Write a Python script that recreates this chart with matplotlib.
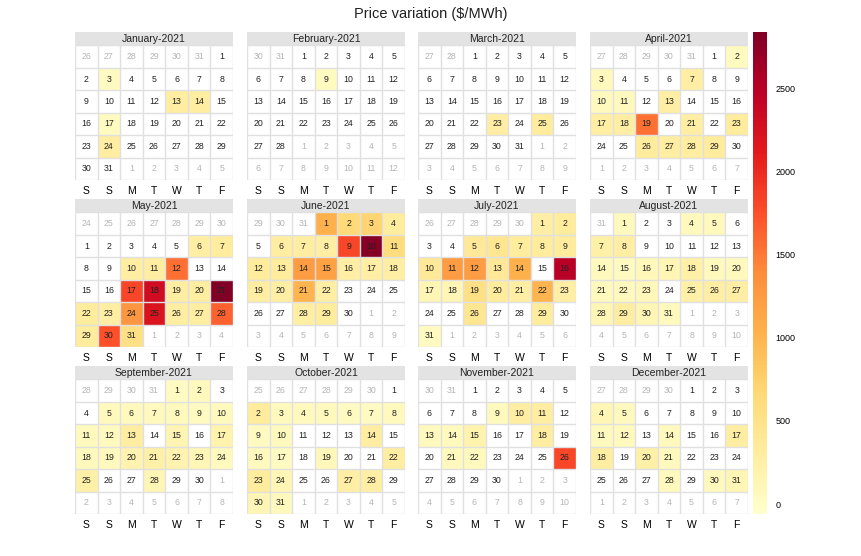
import datetime as dt

import numpy as np
import matplotlib
matplotlib.use('Agg')
import matplotlib.pyplot as plt
from matplotlib.patches import Rectangle
from matplotlib.colors import Normalize

plt.rcParams['font.family'] = ['Liberation Sans', 'DejaVu Sans']

# daily price variation ($/MWh), days not listed have no value
jan = {3: 40, 13: 300, 14: 300, 17: 50, 24: 300}
feb = {9: 50}
mar = {23: 280, 25: 330}
apr = {2: 50, 3: 60, 7: 280, 10: 60, 11: 60, 13: 280, 17: 280, 18: 280,
       19: 1550, 21: 280, 23: 330, 26: 330, 27: 300, 28: 300, 29: 330}
may = {6: 280, 7: 330, 10: 300, 11: 300, 12: 1550, 17: 1800, 18: 2300,
       19: 300, 20: 300, 21: 2840, 22: 330, 23: 280, 24: 1300, 25: 2200,
       26: 300, 27: 300, 28: 1650, 29: 330, 30: 1750, 31: 550}
jun = {1: 1050, 2: 650, 3: 700, 4: 330, 6: 300, 7: 300, 8: 280, 9: 1800,
       10: 2800, 11: 600, 12: 330, 13: 330, 14: 1250, 15: 1200, 16: 280,
       17: 280, 18: 280, 19: 300, 20: 280, 21: 1000, 22: 280, 28: 280, 29: 330}
jul = {1: 280, 2: 330, 5: 380, 6: 430, 7: 330, 8: 330, 9: 330, 10: 380,
       11: 1250, 12: 1250, 13: 380, 14: 1050, 16: 2500, 17: 140, 18: 140,
       19: 550, 20: 330, 21: 280, 22: 1000, 23: 280, 26: 430, 29: 330, 31: 50}
aug = {1: 70, 4: 70, 5: 70, 7: 250, 8: 280, 14: 70, 15: 50, 16: 90,
       17: 140, 18: 250, 19: 70, 20: 70, 21: 70, 22: 70, 23: 90,
       25: 250, 26: 280, 27: 280, 28: 140, 29: 300, 30: 140, 31: 70}
sep = {1: 40, 2: 60, 5: 60, 6: 60, 7: 60, 8: 60, 9: 40, 10: 60,
       11: 60, 12: 60, 13: 300, 15: 150, 17: 200, 18: 70, 19: 60,
       20: 180, 21: 250, 22: 180, 23: 130, 24: 70, 25: 250, 28: 130}
oct_ = {2: 330, 3: 70, 4: 70, 5: 70, 6: 40, 7: 40, 8: 70, 9: 40,
        10: 70, 14: 300, 16: 70, 17: 40, 19: 90, 22: 300, 23: 330,
        24: 140, 27: 280, 28: 280, 30: 140, 31: 70}
nov = {9: 70, 10: 300, 11: 300, 13: 70, 14: 70, 15: 190, 18: 300,
       21: 70, 22: 70, 26: 1800}
dec = {4: 140, 5: 70, 11: 70, 12: 70, 14: 70, 17: 300, 18: 300,
       20: 250, 21: 70, 28: 70, 30: 70, 31: 140}

month_names = ['January', 'February', 'March', 'April', 'May', 'June', 'July',
               'August', 'September', 'October', 'November', 'December']
month_values = [jan, feb, mar, apr, may, jun, jul, aug, sep, oct_, nov, dec]
weekday_labels = ['S', 'S', 'M', 'T', 'W', 'T', 'F']

W, H = 862, 556
fig = plt.figure(figsize=(W / 100, H / 100), dpi=100)
cmap = plt.get_cmap('YlOrRd')
norm = Normalize(vmin=-60, vmax=2840)

col_x = [75, 247, 418, 590]
row_top = [32, 199, 366]
panel_w = 158
panel_h = 148  # strip + 6 rows of cells

fig.text(0.5, 1 - 14 / H, 'Price variation ($/MWh)', ha='center', va='center',
         fontsize=10.5, color='#222222')

mesh = None
for i, (name, vals) in enumerate(zip(month_names, month_values)):
    m = i + 1
    r, c = divmod(i, 4)
    ax = fig.add_axes([col_x[c] / W, 1 - (row_top[r] + panel_h) / H,
                       panel_w / W, panel_h / H])
    first = dt.date(2021, m, 1)
    # weeks start on Saturday, always show at least one day of the previous month
    offset = (first.weekday() + 2) % 7 or 7
    start = first - dt.timedelta(days=offset)
    grid = np.full((6, 7), np.nan)
    for k in range(42):
        d = start + dt.timedelta(days=k)
        rr, cc = divmod(k, 7)
        if d.month == m:
            grid[rr, cc] = vals.get(d.day, np.nan)
            tc = '#222222'
        else:
            tc = '#b5b5b5'
        ax.text(cc + 0.5, rr + 0.5, str(d.day), ha='center', va='center',
                fontsize=6.3, color=tc, zorder=3)
    mesh = ax.pcolormesh(np.arange(8), np.arange(7), np.ma.masked_invalid(grid),
                         cmap=cmap, norm=norm, zorder=1)
    ax.hlines(np.arange(7), 0, 7, color='#e0e0e0', lw=1, zorder=2)
    ax.vlines(np.arange(8), 0, 6, color='#e0e0e0', lw=1, zorder=2)
    ax.add_patch(Rectangle((0, -0.6), 7, 0.6, facecolor='#e3e3e3',
                           edgecolor='none', clip_on=False))
    ax.text(3.5, -0.3, f'{name}-2021', ha='center', va='center',
            fontsize=7.5, color='#222222')
    ax.set_xlim(0, 7)
    ax.set_ylim(6, -0.6)
    ax.set_xticks(np.arange(7) + 0.5)
    ax.set_xticklabels(weekday_labels, fontsize=7.5)
    ax.tick_params(length=0, pad=4, labelleft=False, left=False)
    ax.set_yticks([])
    for s in ax.spines.values():
        s.set_visible(False)

cax = fig.add_axes([753 / W, 1 - 514 / H, 14 / W, 482 / H])
cbar = fig.colorbar(mesh, cax=cax, ticks=[0, 500, 1000, 1500, 2000, 2500])
cbar.outline.set_visible(False)
cbar.ax.tick_params(length=0, pad=6, labelsize=6.5)

fig.savefig('out.png', dpi=100)
